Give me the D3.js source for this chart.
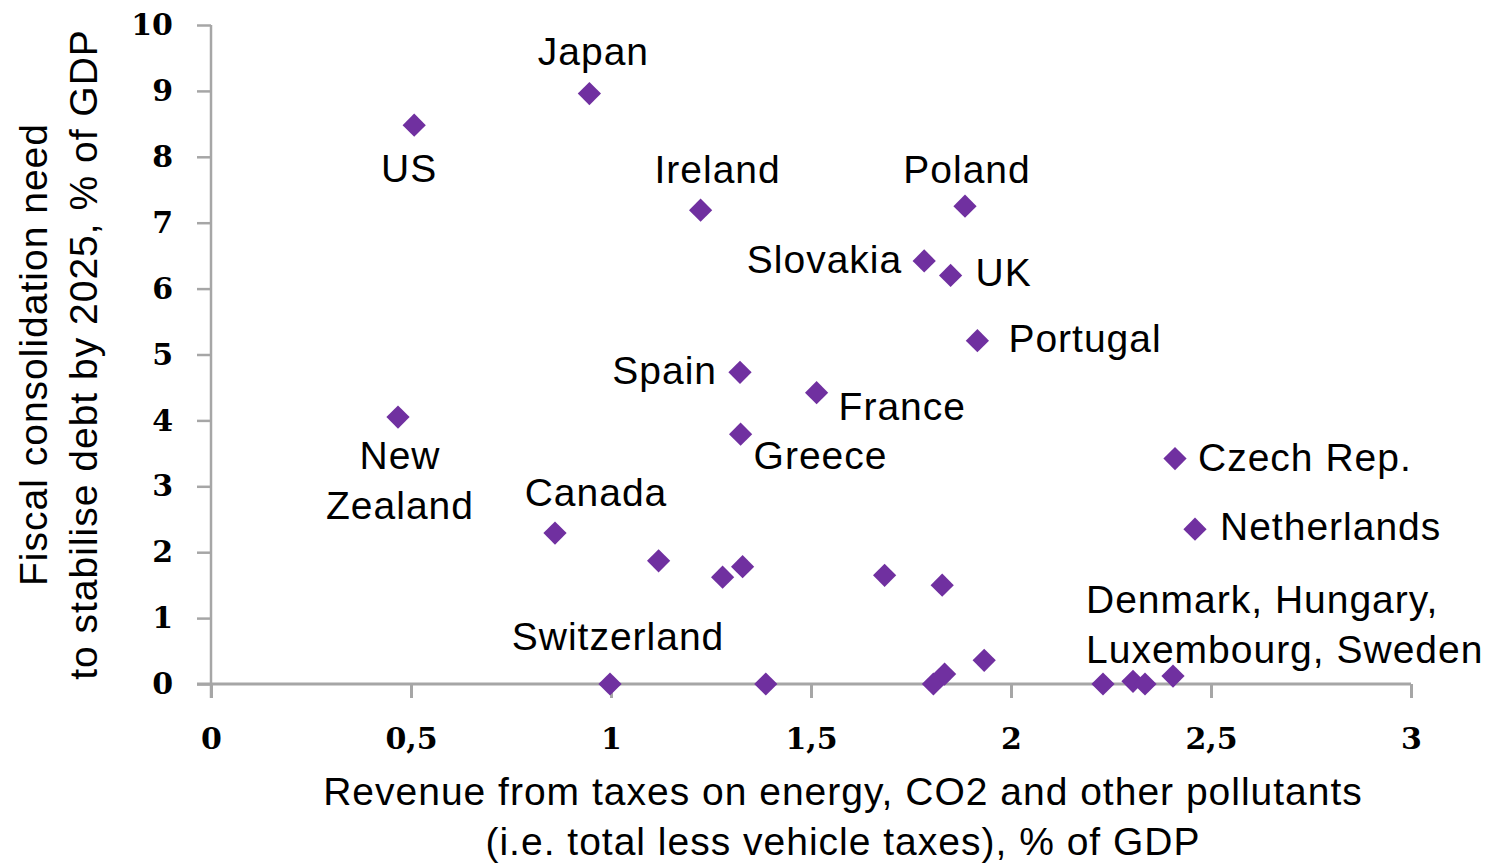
<!DOCTYPE html>
<html>
<head>
<meta charset="utf-8">
<script src="https://cdn.jsdelivr.net/npm/d3@7"></script>
<style>
  html, body { margin: 0; padding: 0; background: #fff; }
  #chart { width: 1493px; height: 867px; }
  .label, .axis-title { font-family: "Liberation Sans", Arial, sans-serif; font-size: 39px; letter-spacing: 1px; fill: #000; }
  .tick text { font-family: "DejaVu Serif", serif; font-weight: bold; font-size: 30px; fill: #000; }
  .tick line, .axis-line { stroke: #a6a6a6; }
</style>
</head>
<body>
<div id="chart"></div>
<script>
// values
const names = ['US', 'Japan', 'Ireland', 'Poland', 'Slovakia', 'UK', 'Portugal', 'Spain', 'France', 'Greece',
  'New Zealand', 'Czech Rep.', 'Netherlands', 'Canada', '', '', '', '', '', 'Switzerland',
  '', '', '', '', 'Denmark', 'Hungary', 'Luxembourg', 'Sweden'];
const energyTaxRevenue = [0.508, 0.946, 1.224, 1.885, 1.783, 1.849, 1.916, 1.3225, 1.514, 1.324,
  0.4675, 2.41, 2.46, 0.86, 1.119, 1.279, 1.329, 1.684, 1.828, 0.9975,
  1.387, 1.806, 1.834, 1.933, 2.23, 2.305, 2.335, 2.405];
const consolidationNeed = [8.48, 8.96, 7.19, 7.25, 6.42, 6.2, 5.21, 4.73, 4.42, 3.79,
  4.05, 3.42, 2.35, 2.29, 1.87, 1.62, 1.78, 1.65, 1.5, 0,
  0, 0, 0.15, 0.36, 0, 0.04, 0, 0.12];

const xTicks = [0, 0.5, 1, 1.5, 2, 2.5, 3];
const yTicks = [0, 1, 2, 3, 4, 5, 6, 7, 8, 9, 10];

const labelLines = [['US'], ['Japan'], ['Ireland'], ['Poland'], ['Slovakia'], ['UK'], ['Portugal'], ['Spain'],
  ['France'], ['Greece'], ['New', 'Zealand'], ['Czech Rep.'], ['Netherlands'], ['Canada'], ['Switzerland'],
  ['Denmark, Hungary,', 'Luxembourg, Sweden']];
const labelPoint = [0, 1, 2, 3, 4, 5, 6, 7, 8, 9, 10, 11, 12, 13, 19, 27];

const xTitle = ['Revenue from taxes on energy, CO2 and other pollutants', '(i.e. total less vehicle taxes), % of GDP'];
const yTitle = ['Fiscal consolidation need', 'to stabilise debt by 2025, % of GDP'];

// where each label sits relative to its point (pixels)
const labelLayout = [
  {anchor: 'middle', dx: -5, dy: 57}, {anchor: 'middle', dx: 4, dy: -29}, {anchor: 'middle', dx: 17, dy: -27},
  {anchor: 'middle', dx: 2, dy: -23}, {anchor: 'end', dx: -22, dy: 12}, {anchor: 'start', dx: 25, dy: 11},
  {anchor: 'start', dx: 31, dy: 11}, {anchor: 'end', dx: -23, dy: 12}, {anchor: 'start', dx: 22, dy: 27},
  {anchor: 'start', dx: 13, dy: 35}, {anchor: 'middle', dx: 2, dy: 52}, {anchor: 'start', dx: 23, dy: 12},
  {anchor: 'start', dx: 25, dy: 11}, {anchor: 'middle', dx: 41, dy: -27}, {anchor: 'middle', dx: 8, dy: -34},
  {anchor: 'start', dx: -87, dy: -63}
];

class ScatterPlot {
  constructor(_config) {
    this.config = {
      parentElement: _config.parentElement,
      width: _config.width || 1493,
      height: _config.height || 867,
      margin: _config.margin || {top: 25, right: 82, bottom: 183, left: 211},
      tickLength: 14,
      color: '#7030a0'
    };
    this.initVis();
  }

  initVis() {
    let vis = this;
    const m = vis.config.margin;
    vis.innerWidth = vis.config.width - m.left - m.right;
    vis.innerHeight = vis.config.height - m.top - m.bottom;

    vis.svg = d3.select(vis.config.parentElement).append('svg')
        .attr('width', vis.config.width)
        .attr('height', vis.config.height);

    vis.chart = vis.svg.append('g')
        .attr('transform', `translate(${m.left},${m.top})`);

    vis.xScale = d3.scaleLinear().domain([0, 3]).range([0, vis.innerWidth]);
    vis.yScale = d3.scaleLinear().domain([0, 10]).range([vis.innerHeight, 0]);

    // decimal comma like the original
    const fmt = d3.formatLocale({decimal: ',', thousands: '.', grouping: [3], currency: ['', '']}).format('~g');

    vis.xAxis = d3.axisBottom(vis.xScale)
        .tickValues(xTicks)
        .tickFormat(fmt)
        .tickSize(vis.config.tickLength)
        .tickPadding(30);
    vis.yAxis = d3.axisLeft(vis.yScale)
        .tickValues(yTicks)
        .tickFormat(fmt)
        .tickSize(vis.config.tickLength)
        .tickPadding(24);

    vis.renderVis();
  }

  renderVis() {
    let vis = this;
    const t = vis.config.tickLength;

    const yAxisG = vis.chart.append('g').attr('class', 'axis y-axis').call(vis.yAxis);
    const xAxisG = vis.chart.append('g').attr('class', 'axis x-axis')
        .attr('transform', `translate(0,${vis.innerHeight})`)
        .call(vis.xAxis);
    yAxisG.select('.domain').remove();
    xAxisG.select('.domain').remove();
    yAxisG.selectAll('.tick line').attr('stroke-width', 2.5);
    xAxisG.selectAll('.tick line').attr('stroke-width', 3);

    // axis lines cross each other like in Excel
    vis.chart.append('line').attr('class', 'axis-line')
        .attr('x1', vis.xScale(0)).attr('x2', vis.xScale(0))
        .attr('y1', vis.yScale(10)).attr('y2', vis.yScale(0) + t)
        .attr('stroke-width', 2.5);
    vis.chart.append('line').attr('class', 'axis-line')
        .attr('x1', vis.xScale(0) - t).attr('x2', vis.xScale(3))
        .attr('y1', vis.yScale(0)).attr('y2', vis.yScale(0))
        .attr('stroke-width', 3);

    // axis titles
    vis.chart.append('text').attr('class', 'axis-title')
        .attr('text-anchor', 'middle')
        .selectAll('tspan')
        .data(xTitle)
      .join('tspan')
        .attr('x', vis.innerWidth / 2 + 32)
        .attr('y', (d, i) => vis.innerHeight + 121 + i * 50)
        .text(d => d);

    vis.chart.append('text').attr('class', 'axis-title')
        .attr('text-anchor', 'middle')
        .attr('transform', `translate(0,${vis.innerHeight / 2}) rotate(-90)`)
        .selectAll('tspan')
        .data(yTitle)
      .join('tspan')
        .attr('x', 0)
        .attr('y', (d, i) => -164 + i * 50)
        .text(d => d);

    const points = energyTaxRevenue.map((x, i) => ({name: names[i], x: x, y: consolidationNeed[i]}));

    vis.chart.selectAll('.point')
        .data(points)
      .join('path')
        .attr('class', 'point')
        .attr('d', d3.symbol(d3.symbolSquare, 270))
        .attr('transform', d => `translate(${vis.xScale(d.x)},${vis.yScale(d.y)}) rotate(45)`)
        .attr('fill', vis.config.color);

    const labels = labelLines.map((lines, i) => ({lines: lines, p: points[labelPoint[i]], layout: labelLayout[i]}));

    vis.chart.selectAll('.label')
        .data(labels)
      .join('text')
        .attr('class', 'label')
        .attr('text-anchor', d => d.layout.anchor)
        .each(function(d) {
          const px = vis.xScale(d.p.x) + d.layout.dx;
          const py = vis.yScale(d.p.y) + d.layout.dy;
          d3.select(this).selectAll('tspan')
              .data(d.lines)
            .join('tspan')
              .attr('x', px)
              .attr('y', (l, i) => py + i * 50)
              .text(l => l);
        });
  }
}

new ScatterPlot({parentElement: '#chart'});
</script>
</body>
</html>
